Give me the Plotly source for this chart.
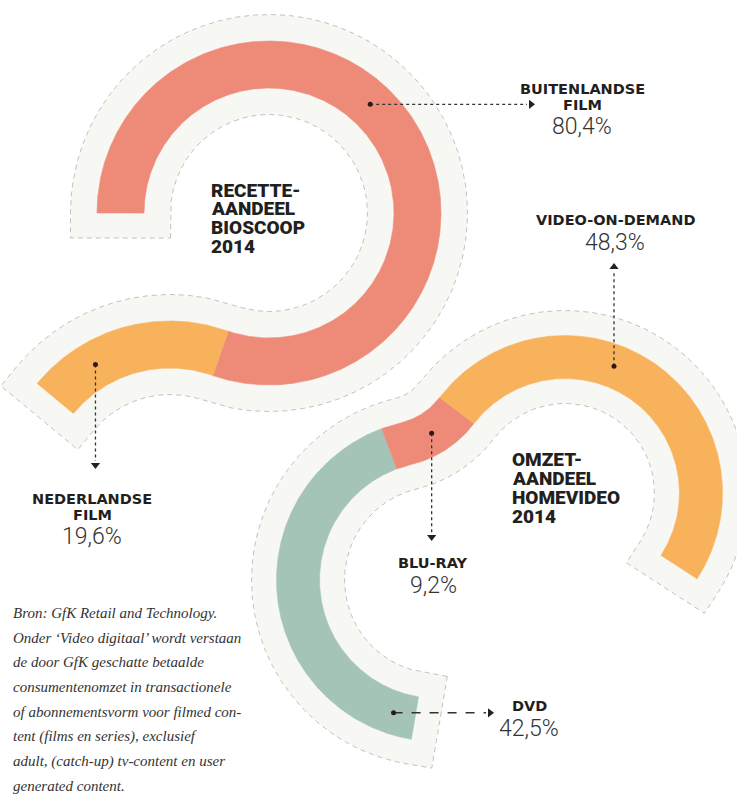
import numpy as np
import plotly.graph_objects as go

# ---------------- data ----------------
cinema_labels = ["BUITENLANDSE<br>FILM", "NEDERLANDSE<br>FILM"]
cinema_values = [80.4, 19.6]
cinema_pct_text = ["80,4%", "19,6%"]
cinema_colors = ["#ee8b78", "#f9b25c"]

home_labels = ["DVD", "BLU-RAY", "VIDEO-ON-DEMAND"]
home_values = [42.5, 9.2, 48.3]
home_pct_text = ["42,5%", "9,2%", "48,3%"]
home_colors = ["#a4c4b8", "#ee8b78", "#f9b25c"]

title_cinema = ["RECETTE-", "AANDEEL", "BIOSCOOP", "2014"]
title_home = ["OMZET-", "AANDEEL", "HOMEVIDEO", "2014"]

source_lines = [
    "Bron: GfK Retail and Technology.",
    "Onder \u2018Video digitaal\u2019 wordt verstaan",
    "de door GfK geschatte betaalde",
    "consumentenomzet in transactionele",
    "of abonnementsvorm voor filmed con-",
    "tent (films en series), exclusief",
    "adult, (catch-up) tv-content en user",
    "generated content.",
]

# ---------------- geometry (layout) ----------------
W, H = 737, 801
BAND = "#f7f7f4"
DASH = "#c2c2c2"
INK = "#231f20"


def build(arcs, step=0.5):
    parts = []
    for cx, cy, r, a0, sw in arcs:
        n = max(3, int(abs(np.radians(sw)) * r / step))
        a = np.radians(np.linspace(a0, a0 + sw, n))
        p = np.c_[cx + r * np.cos(a), cy - r * np.sin(a)]
        if parts:
            p = p[1:]
        parts.append(p)
    P = np.vstack(parts)
    T = np.gradient(P, axis=0)
    T /= np.linalg.norm(T, axis=1)[:, None]
    N = np.c_[-T[:, 1], T[:, 0]]
    S = np.r_[0, np.cumsum(np.linalg.norm(np.diff(P, axis=0), axis=1))]
    return P, N, T, S


def at(path, s):
    P, N, T, S = path
    p = np.array([np.interp(s, S, P[:, 0]), np.interp(s, S, P[:, 1])])
    n = np.array([np.interp(s, S, N[:, 0]), np.interp(s, S, N[:, 1])])
    return p, n / np.linalg.norm(n)


def strip(path, s0, s1, w):
    P, N, T, S = path
    m = (S > s0) & (S < s1)
    p0, n0 = at(path, s0)
    p1, n1 = at(path, s1)
    pts = np.vstack([p0, P[m], p1])
    nrm = np.vstack([n0, N[m], n1])
    left = pts + w * nrm
    right = pts - w * nrm
    return np.vstack([left, right[::-1], left[:1]])


def band_poly(path, w, ext):
    P, N, T, S = path
    a = P[0] - ext * T[0]
    b = P[-1] + ext * T[-1]
    pts = np.vstack([a, P, b])
    nrm = np.vstack([N[0], N, N[-1]])
    left = pts + w * nrm
    right = pts - w * nrm
    return np.vstack([left, right[::-1], left[:1]])


# top ribbon: circle A clockwise, then reverse on circle B
A = (269.0, 213.0)
rA = 148.5
tA = 250.5
B = (A[0] + 2 * rA * np.cos(np.radians(tA)), A[1] - 2 * rA * np.sin(np.radians(tA)))
top_path = build([
    (A[0], A[1], rA, 180.0, tA - 180.0 - 360.0),
    (B[0], B[1], rA, tA - 180.0, 70.0),
])

# bottom ribbon: circle C clockwise, gentle reverse arc E, circle D clockwise
C = np.array([438.0, 580.0]); rC = 140.0
D = np.array([565.0, 493.0]); rD = 136.0
rho = 90.0
d = np.linalg.norm(D - C)
u = (D - C) / d
R1, R2 = rC + rho, rD + rho
a_ = (R1 ** 2 - R2 ** 2 + d ** 2) / (2 * d)
h_ = np.sqrt(R1 ** 2 - a_ ** 2)
perp = np.array([-u[1], u[0]])
cands = [C + a_ * u + h_ * perp, C + a_ * u - h_ * perp]
E = min(cands, key=lambda q: q[1])
thC = np.degrees(np.arctan2(-(E[1] - C[1]), E[0] - C[0]))
thD = np.degrees(np.arctan2(-(E[1] - D[1]), E[0] - D[0]))
startC, endD = 260.5, -33.0
bot_path = build([
    (C[0], C[1], rC, startC, thC - startC),
    (E[0], E[1], rho, thC + 180.0, thD - thC),
    (D[0], D[1], rD, thD, endD - thD),
])

fig = go.Figure()

rings = [
    dict(path=top_path, values=cinema_values, colors=cinema_colors, w=23.5, bw=50.0),
    dict(path=bot_path, values=home_values, colors=home_colors, w=21.5, bw=46.5),
]

for rg in rings:
    poly = band_poly(rg["path"], rg["bw"], 25.0)
    fig.add_trace(go.Scatter(x=poly[:, 0], y=poly[:, 1], mode="lines", fill="toself",
                             fillcolor=BAND, line=dict(color=DASH, width=1, dash="5px,4px"),
                             hoverinfo="skip", showlegend=False))

bounds = {}
for k, rg in enumerate(rings):
    S = rg["path"][3]
    L = S[-1]
    tot = sum(rg["values"])
    cum = np.r_[0, np.cumsum(rg["values"])] / tot * L
    bounds[k] = cum
    for i, col in enumerate(rg["colors"]):
        poly = strip(rg["path"], cum[i], cum[i + 1], rg["w"])
        fig.add_trace(go.Scatter(x=poly[:, 0], y=poly[:, 1], mode="lines", fill="toself",
                                 fillcolor=col, line=dict(color=col, width=0.6),
                                 hoverinfo="skip", showlegend=False))

# leaders: (ring, segment, fraction in segment, direction, tip coordinate, dash)
leaders = [
    (0, 0, 0.46, "right", 531, "dot"),
    (0, 1, 0.71, "down", 465, "dot"),
    (1, 0, 0.06, "right", 490, "dash"),
    (1, 1, 0.57, "down", 537, "dot"),
    (1, 2, 0.42, "up", 267, "dot"),
]
sym = {"right": "triangle-right", "down": "triangle-down", "up": "triangle-up"}
for ring, seg, fr, dirn, tip, dsh in leaders:
    cum = bounds[ring]
    s = cum[seg] + fr * (cum[seg + 1] - cum[seg])
    p, _ = at(rings[ring]["path"], s)
    if dirn == "right":
        tx, ty = tip, p[1]
        lx, ly = tip - 4, p[1]
    elif dirn == "down":
        tx, ty = p[0], tip
        lx, ly = p[0], tip - 4
    else:
        tx, ty = p[0], tip
        lx, ly = p[0], tip + 4
    fig.add_trace(go.Scatter(x=[p[0], lx], y=[p[1], ly], mode="lines",
                             line=dict(color="#333333", width=1.3, dash=dsh),
                             hoverinfo="skip", showlegend=False))
    fig.add_trace(go.Scatter(x=[p[0]], y=[p[1]], mode="markers",
                             marker=dict(size=5, color="#2a1a18"),
                             hoverinfo="skip", showlegend=False))
    fig.add_trace(go.Scatter(x=[tx], y=[ty], mode="markers",
                             marker=dict(size=8, color="#222222", symbol=sym[dirn]),
                             hoverinfo="skip", showlegend=False))

ann = []
LBL = dict(family="DejaVu Sans", size=14.5, color=INK, weight=700)
PCT = dict(family="Roboto", size=23, color="#333333", weight=300)


def label(x, y, lines, pct):
    for j, ln in enumerate(lines):
        ann.append(dict(x=x, y=y + 15.5 * j, text=ln, showarrow=False, xanchor="center",
                        yanchor="middle", font=LBL))
    ann.append(dict(x=x, y=y + 15.5 * (len(lines) - 1) + 22, text=pct, showarrow=False,
                    xanchor="center", yanchor="middle", font=PCT))


label(582, 89, cinema_labels[0].split("<br>"), cinema_pct_text[0])
label(92, 499, cinema_labels[1].split("<br>"), cinema_pct_text[1])
label(529, 706, [home_labels[0]], home_pct_text[0])
label(433, 563, [home_labels[1]], home_pct_text[1])
label(615, 220, [home_labels[2]], home_pct_text[2])

TTL = dict(family="Roboto", size=19, color=INK, weight=900)
for j, ln in enumerate(title_cinema):
    ann.append(dict(x=209, y=190 + 18.8 * j, text=ln, showarrow=False, xanchor="left",
                    yanchor="middle", font=TTL))
for j, ln in enumerate(title_home):
    ann.append(dict(x=510, y=459 + 19.3 * j, text=ln, showarrow=False, xanchor="left",
                    yanchor="middle", font=TTL))

SRC = dict(family="Liberation Serif", size=15, color="#333333")
for j, ln in enumerate(source_lines):
    ann.append(dict(x=11, y=613 + 24.7 * j, text="<i>" + ln + "</i>", showarrow=False,
                    xanchor="left", yanchor="middle", font=SRC))

fig.update_layout(
    width=W, height=H, margin=dict(l=0, r=0, t=0, b=0),
    paper_bgcolor="white", plot_bgcolor="white",
    xaxis=dict(range=[0, W], visible=False, fixedrange=True),
    yaxis=dict(range=[H, 0], visible=False, fixedrange=True),
    annotations=ann,
)
fig.write_html("out.html", config={"displayModeBar": False},
               post_script="document.body.style.margin='0px';document.body.style.overflow='hidden';")
